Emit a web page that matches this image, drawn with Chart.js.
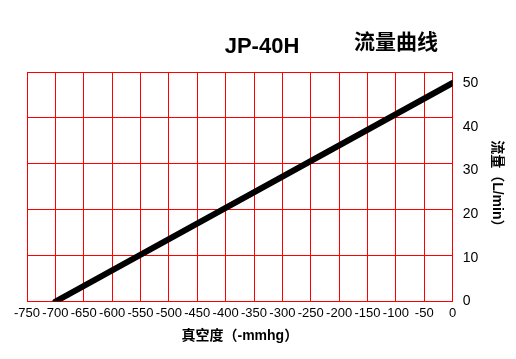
<!DOCTYPE html>
<html lang="zh">
  <head>
    <meta charset="utf-8"/>
    <script src="https://cdn.jsdelivr.net/npm/chart.js@4.4.1/dist/chart.umd.min.js"></script>
    <style>
      html, body { margin: 0; padding: 0; background: #fff; }
      #box { width: 516px; height: 359px; }
    </style>
  </head>
  <body>
    <div id="box"><canvas id="flowPlot"></canvas></div>

<script>
// pump curve data (vacuum in -mmHg, flow in L/min)
const vacuum = [-700, 0];
const flow = [0, 50];

const xTicks = [-750, -700, -650, -600, -550, -500, -450, -400, -350, -300, -250, -200, -150, -100, -50, 0];
const yTicks = [0, 10, 20, 30, 40, 50];

const fontFam = "'Liberation Sans', 'Noto Sans CJK SC', sans-serif";

const pairs = vacuum.map((v, i) => ({ x: v, y: flow[i] }));

// the two headings above the plot
const headings = {
    id: 'headings',
    afterDraw(chart) {
        const c = chart.ctx;
        c.save();
        c.fillStyle = '#000';
        c.textAlign = 'center';
        c.textBaseline = 'middle';
        c.font = "bold 22px " + fontFam;
        c.fillText('JP-40H', 262, 47);
        c.font = "bold 21px 'Noto Sans CJK SC', sans-serif";
        c.fillText('流量曲线', 396, 41);
        c.restore();
    }
};

let ctx = document.getElementById('flowPlot').getContext('2d');
let flowChart = new Chart(ctx, {
    type: 'scatter',
    data: {
        datasets: [{
            data: pairs,
            showLine: true,
            borderColor: '#000',
            borderWidth: 6,
            borderCapStyle: 'round',
            pointRadius: 0,
            fill: false,
            xAxisID: 'x',
            yAxisID: 'y',
        }]
    },
    options: {
        responsive: true,
        maintainAspectRatio: false,
        animation: false,
        layout: { padding: { left: 27, right: 4, top: 72, bottom: 14 } },
        plugins: {
            legend: { display: false },
            tooltip: { enabled: false },
            title: { display: false },
        },
        scales: {
            x: {
                type: 'linear',
                min: -750,
                max: 0,
                afterBuildTicks: (s) => { s.ticks = xTicks.map((v) => ({ value: v })); },
                grid: { color: '#ff0000', lineWidth: 1, drawTicks: false },
                border: { display: false },
                ticks: {
                    color: '#000',
                    padding: 4,
                    maxRotation: 0,
                    autoSkip: false,
                    font: { family: fontFam, size: 13 },
                },
                title: {
                    display: true,
                    text: '真空度（-mmhg）',
                    color: '#000',
                    font: { family: fontFam, size: 14, weight: 'bold' },
                    padding: { top: 3, bottom: 0 },
                },
            },
            y: {
                type: 'linear',
                position: 'right',
                min: 0,
                max: 52.5,
                afterBuildTicks: (s) => { s.ticks = yTicks.map((v) => ({ value: v })); },
                grid: { display: false, drawTicks: false },
                border: { display: false },
                ticks: {
                    color: '#000',
                    padding: 10,
                    font: { family: fontFam, size: 14 },
                },
                title: {
                    display: true,
                    text: '流量（L/min）',
                    color: '#000',
                    font: { family: fontFam, size: 14, weight: 'bold' },
                    padding: { top: 7, bottom: 0 },
                },
            },
            y2: {
                type: 'linear',
                position: 'left',
                min: 0,
                max: 5,
                ticks: { display: false, stepSize: 1 },
                grid: { color: '#ff0000', lineWidth: 1, drawTicks: false },
                border: { display: true, color: '#ff0000', width: 1 },
            },
        },
    },
    plugins: [headings],
});
</script>
  </body>
</html>
